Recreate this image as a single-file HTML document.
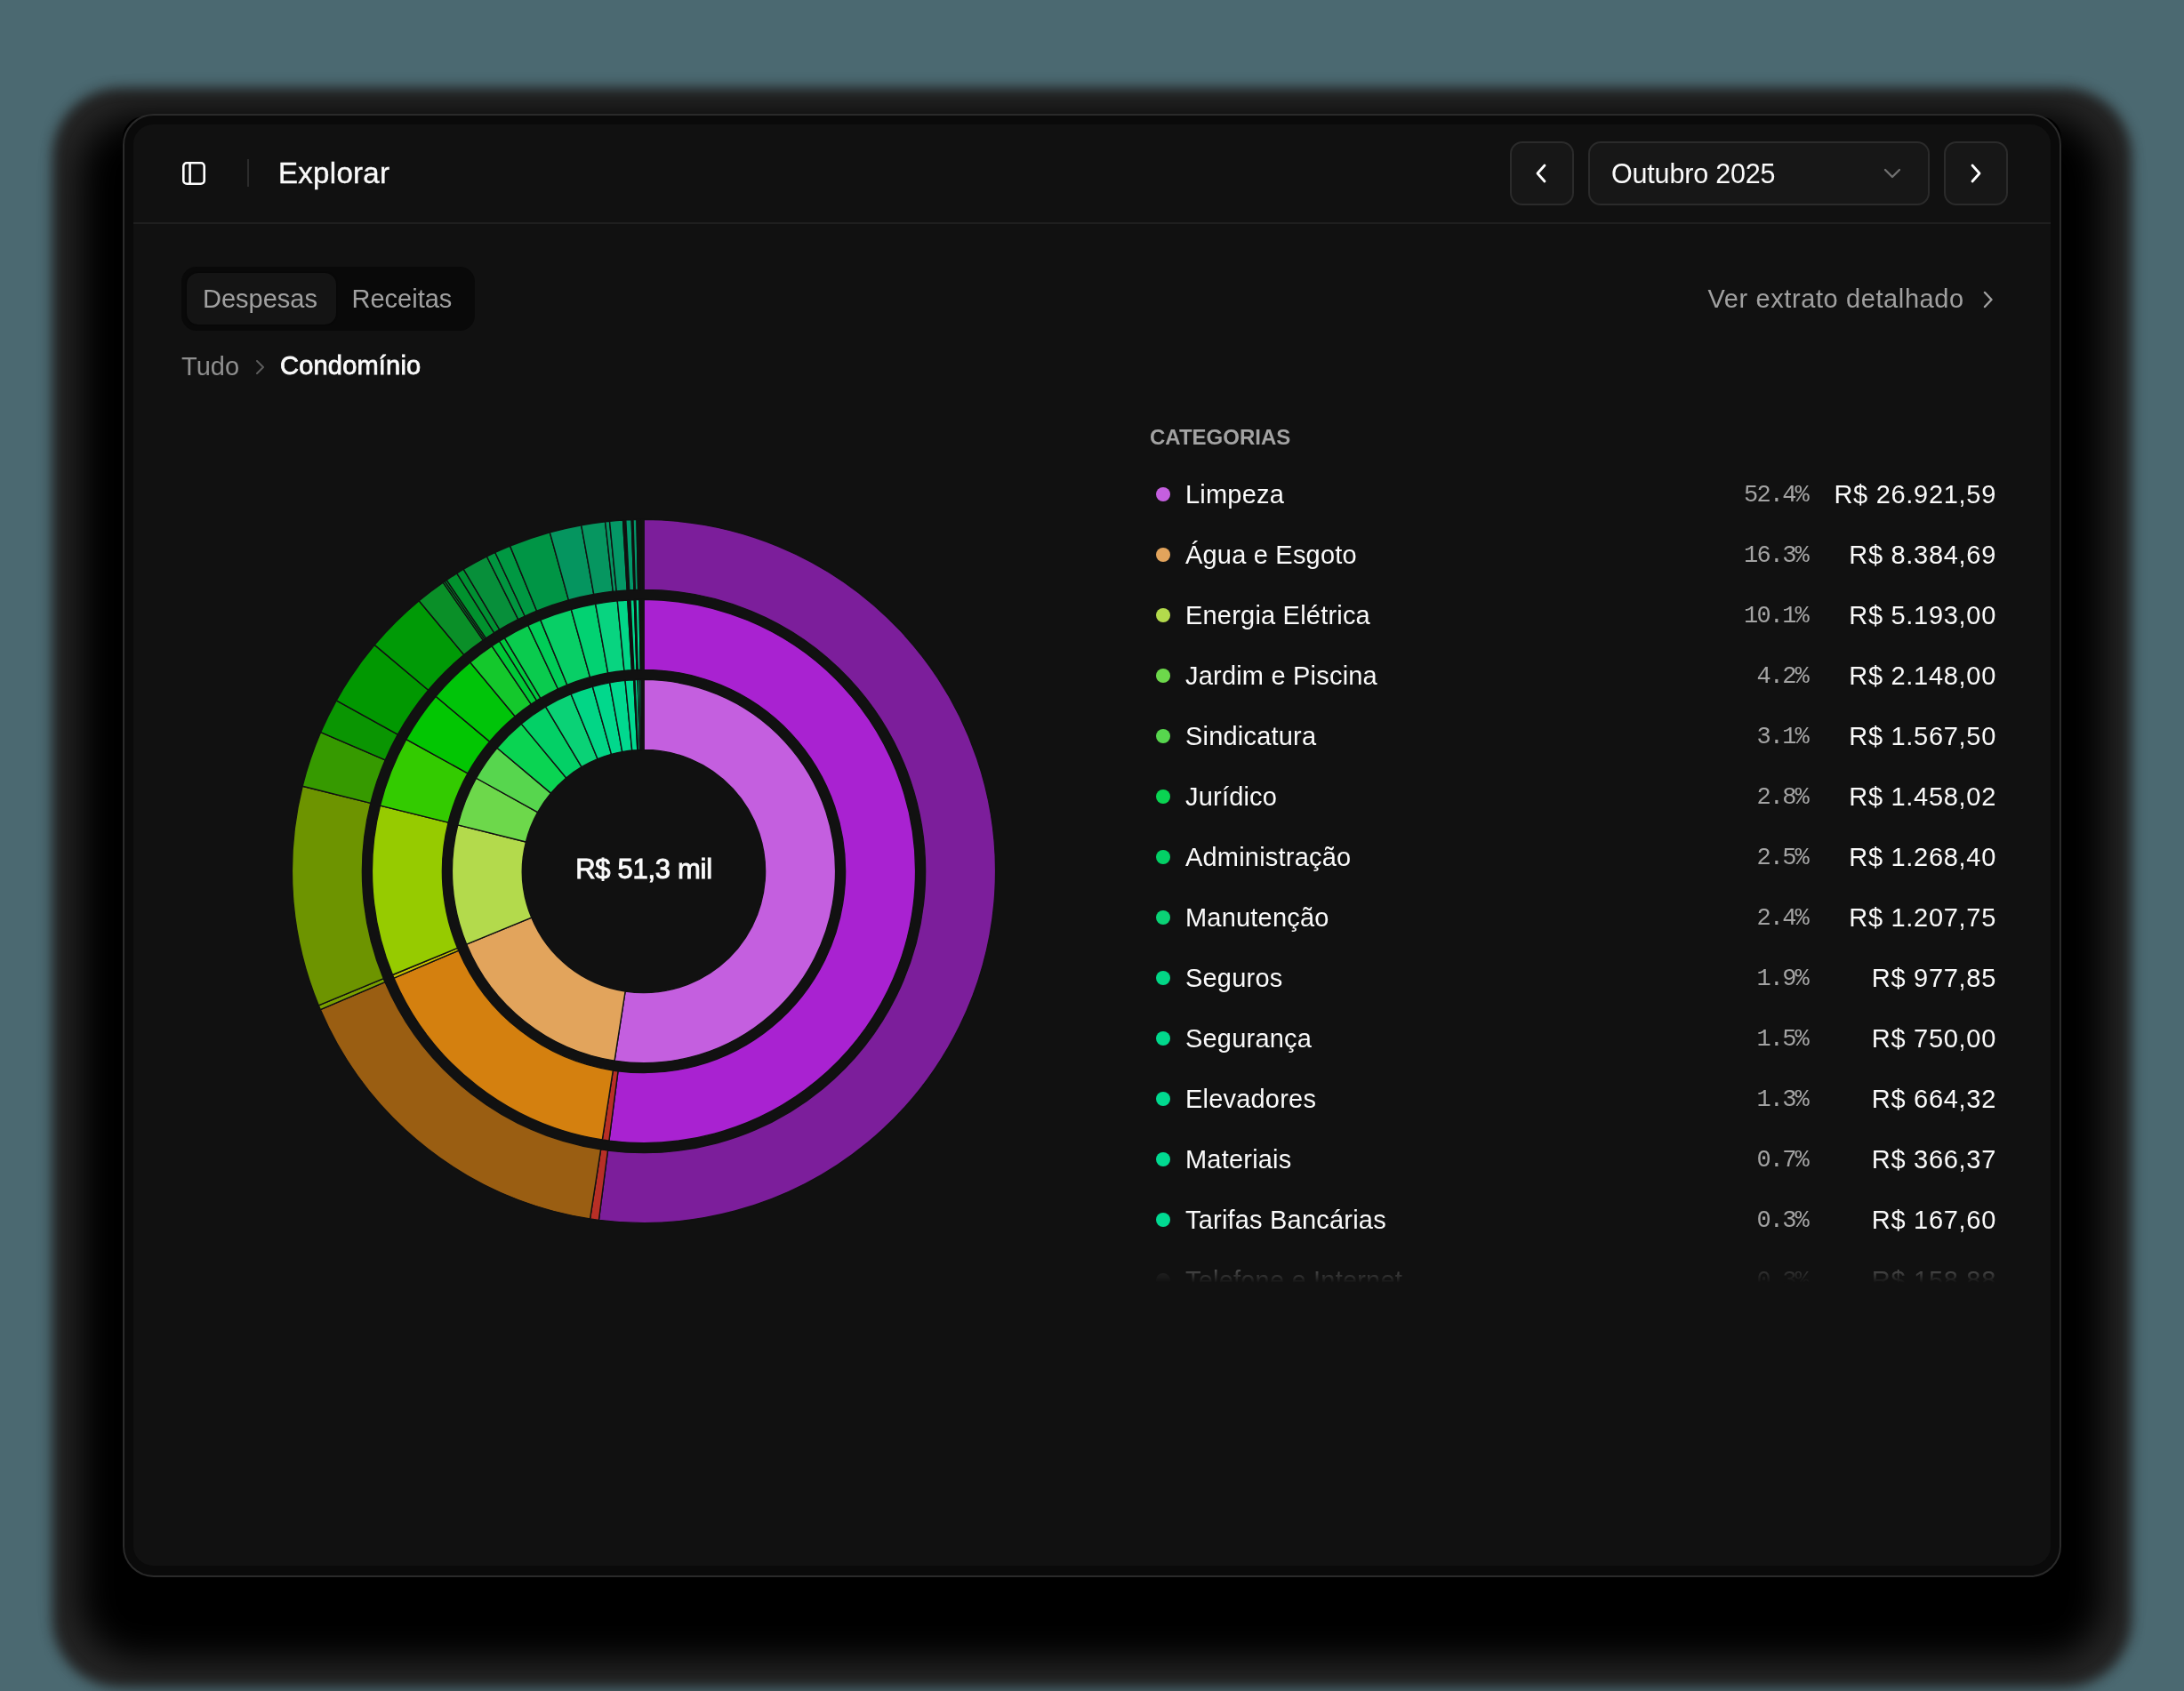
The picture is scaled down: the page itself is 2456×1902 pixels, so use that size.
<!DOCTYPE html>
<html><head><meta charset="utf-8"><style>
*{box-sizing:border-box;margin:0;padding:0}
html,body{width:2456px;height:1902px;overflow:hidden;background:#4b6971;font-family:"Liberation Sans",sans-serif}
.a{position:absolute;white-space:nowrap;line-height:1;opacity:.999}
.shadow{position:absolute;left:138px;top:131px;width:2180px;height:1641px;border-radius:24px;background:#000;box-shadow:0 47px 40px 48px #000,0 47px 14px 79px #262626}
.win{position:absolute;left:138px;top:128px;width:2180px;height:1646px;border-radius:35px;border:2px solid #2a2a2a;background:#0a0a0a}
.panel{position:absolute;left:150px;top:140px;width:2156px;height:1621px;border-radius:22px;background:#111111}
.btn{position:absolute;top:159px;height:72px;border:2px solid #2b2b2b;border-radius:14px;background:#171717}
.dot{position:absolute;left:1300px;width:16px;height:16px;border-radius:50%}
.nm{position:absolute;left:1333px;font-size:29px;line-height:1;color:#fafafa;letter-spacing:0.2px;white-space:nowrap}
.pc{position:absolute;right:423px;font-size:27px;line-height:1;color:#a3a3a3;font-family:"Liberation Mono",monospace;letter-spacing:-1.8px;white-space:nowrap}
.vl{position:absolute;right:211px;font-size:29px;line-height:1;color:#fafafa;letter-spacing:0.7px;white-space:nowrap}
.list{position:absolute;left:0;top:0;width:2456px;height:1443px;overflow:hidden;
 -webkit-mask-image:linear-gradient(to bottom,#000 0,#000 1386px,rgba(0,0,0,0) 1443px);mask-image:linear-gradient(to bottom,#000 0,#000 1386px,rgba(0,0,0,0) 1443px)}
</style></head><body>
<div class="shadow"></div>
<div class="win"></div>
<div class="panel"></div>
<!-- header -->
<svg class="a" style="left:205px;top:182px" width="26" height="26" viewBox="0 0 26 26"><rect x="1.3" y="1.3" width="23.4" height="23.4" rx="3.8" fill="none" stroke="#fff" stroke-width="2.6"/><line x1="8.6" y1="1.5" x2="8.6" y2="24.5" stroke="#fff" stroke-width="2.6"/></svg>
<div class="a" style="left:278px;top:179px;width:2px;height:31px;background:#2c2c2c"></div>
<div class="a" style="left:313px;top:178.2px;font-size:33px;color:#fafafa;letter-spacing:0.3px;-webkit-text-stroke:0.4px #fafafa">Explorar</div>
<div class="btn" style="left:1698px;width:72px"><svg class="a" style="left:26px;top:23px" width="16" height="22" viewBox="0 0 16 22"><path d="M11 2 L3 11 L11 20" fill="none" stroke="#fff" stroke-width="2.8" stroke-linecap="round" stroke-linejoin="round"/></svg></div>
<div class="btn" style="left:1786px;width:384px"><svg class="a" style="left:329px;top:26px" width="22" height="16" viewBox="0 0 22 16"><path d="M3 4 L11 12 L19 4" fill="none" stroke="#717171" stroke-width="2.3" stroke-linecap="round" stroke-linejoin="round"/></svg></div>
<div class="a" style="left:1812px;top:179.6px;font-size:30.5px;color:#fafafa;letter-spacing:-0.18px">Outubro 2025</div>
<div class="btn" style="left:2186px;width:72px"><svg class="a" style="left:26px;top:23px" width="16" height="22" viewBox="0 0 16 22"><path d="M4 2 L12 11 L4 20" fill="none" stroke="#fff" stroke-width="2.8" stroke-linecap="round" stroke-linejoin="round"/></svg></div>
<div class="a" style="left:150px;top:250px;width:2156px;height:2px;background:#1f1f1f"></div>
<!-- tabs -->
<div class="a" style="left:204px;top:300px;width:330px;height:72px;border-radius:17px;background:#090909"></div>
<div class="a" style="left:210px;top:307px;width:168px;height:58px;border-radius:13px;background:#141414;box-shadow:0 0 2px rgba(0,0,0,.6)"></div>
<div class="a" style="left:228px;top:322px;font-size:29px;color:#a0a0a0">Despesas</div>
<div class="a" style="left:395.5px;top:322px;font-size:29px;color:#a0a0a0">Receitas</div>
<div class="a" style="left:1920.5px;top:322.3px;font-size:29px;color:#a0a0a0;letter-spacing:0.6px">Ver extrato detalhado</div>
<svg class="a" style="left:2229px;top:327px" width="14" height="20" viewBox="0 0 14 20"><path d="M3 2 L10.5 10 L3 18" fill="none" stroke="#a0a0a0" stroke-width="2.4" stroke-linecap="round" stroke-linejoin="round"/></svg>
<!-- breadcrumb -->
<div class="a" style="left:204px;top:398px;font-size:29px;color:#8f8f8f">Tudo</div>
<svg class="a" style="left:286px;top:404px" width="14" height="18" viewBox="0 0 14 18"><path d="M3 2 L10 9 L3 16" fill="none" stroke="#5c5c5c" stroke-width="2" stroke-linecap="round" stroke-linejoin="round"/></svg>
<div class="a" style="left:315px;top:397.3px;font-size:29px;color:#fafafa;letter-spacing:0.2px;-webkit-text-stroke:0.8px #fafafa">Condomínio</div>
<!-- chart -->
<svg class="a" style="left:0;top:0" width="2456" height="1902" viewBox="0 0 2456 1902">
 <g stroke="#111" stroke-width="1.4" stroke-linejoin="round">
<path d="M724.00,764.40A215.6,215.6 0 1 1 691.05,1193.07L703.13,1115.00A136.6,136.6 0 1 0 724.00,843.40Z" fill="#c45fdf"/>
<path d="M691.05,1193.07A215.6,215.6 0 0 1 524.68,1062.19L597.72,1032.08A136.6,136.6 0 0 0 703.13,1115.00Z" fill="#e2a45c"/>
<path d="M524.68,1062.19A215.6,215.6 0 0 1 514.80,927.84L591.46,946.95A136.6,136.6 0 0 0 597.72,1032.08Z" fill="#b3da4c"/>
<path d="M514.80,927.84A215.6,215.6 0 0 1 535.56,875.24L604.61,913.63A136.6,136.6 0 0 0 591.46,946.95Z" fill="#6dd84b"/>
<path d="M535.56,875.24A215.6,215.6 0 0 1 558.99,841.24L619.45,892.09A136.6,136.6 0 0 0 604.61,913.63Z" fill="#57d64e"/>
<path d="M558.99,841.24A215.6,215.6 0 0 1 586.22,814.17L636.71,874.93A136.6,136.6 0 0 0 619.45,892.09Z" fill="#0ad452"/>
<path d="M586.22,814.17A215.6,215.6 0 0 1 613.54,794.85L654.01,862.69A136.6,136.6 0 0 0 636.71,874.93Z" fill="#03d066"/>
<path d="M613.54,794.85A215.6,215.6 0 0 1 642.02,780.60L672.06,853.66A136.6,136.6 0 0 0 654.01,862.69Z" fill="#0ad276"/>
<path d="M642.02,780.60A215.6,215.6 0 0 1 666.38,772.24L687.50,848.37A136.6,136.6 0 0 0 672.06,853.66Z" fill="#02d686"/>
<path d="M666.38,772.24A215.6,215.6 0 0 1 685.67,767.83L699.72,845.58A136.6,136.6 0 0 0 687.50,848.37Z" fill="#01d88c"/>
<path d="M685.67,767.83A215.6,215.6 0 0 1 703.04,765.42L710.72,844.05A136.6,136.6 0 0 0 699.72,845.58Z" fill="#01d98f"/>
<path d="M703.04,765.42A215.6,215.6 0 0 1 712.68,764.70L716.83,843.59A136.6,136.6 0 0 0 710.72,844.05Z" fill="#01da91"/>
<path d="M712.68,764.70A215.6,215.6 0 0 1 713.96,764.63L717.64,843.55A136.6,136.6 0 0 0 716.83,843.59Z" fill="#01da92"/>
<path d="M713.96,764.63A215.6,215.6 0 0 1 717.12,764.51L719.64,843.47A136.6,136.6 0 0 0 717.64,843.55Z" fill="#01da92"/>
<path d="M717.12,764.51A215.6,215.6 0 0 1 719.37,764.45L721.07,843.43A136.6,136.6 0 0 0 719.64,843.47Z" fill="#01da92"/>
<path d="M719.37,764.45A215.6,215.6 0 0 1 721.18,764.42L722.21,843.41A136.6,136.6 0 0 0 721.07,843.43Z" fill="#01da92"/>
<path d="M721.18,764.42A215.6,215.6 0 0 1 724.00,764.40L724.00,843.40A136.6,136.6 0 0 0 722.21,843.41Z" fill="#111111"/>
<path d="M724.00,674.40A305.6,305.6 0 1 1 684.90,1283.09L695.01,1204.74A226.6,226.6 0 1 0 724.00,753.40Z" fill="#a922d1"/>
<path d="M684.90,1283.09A305.6,305.6 0 0 1 677.30,1282.01L689.37,1203.94A226.6,226.6 0 0 0 695.01,1204.74Z" fill="#b82f26"/>
<path d="M677.30,1282.01A305.6,305.6 0 0 1 443.03,1100.19L515.66,1069.12A226.6,226.6 0 0 0 689.37,1203.94Z" fill="#d4800f"/>
<path d="M443.03,1100.19A305.6,305.6 0 0 1 441.48,1096.50L514.51,1066.39A226.6,226.6 0 0 0 515.66,1069.12Z" fill="#c8c400"/>
<path d="M441.48,1096.50A305.6,305.6 0 0 1 427.48,906.07L504.13,925.18A226.6,226.6 0 0 0 514.51,1066.39Z" fill="#96cb00"/>
<path d="M427.48,906.07A305.6,305.6 0 0 1 456.90,831.52L525.95,869.90A226.6,226.6 0 0 0 504.13,925.18Z" fill="#33cb00"/>
<path d="M456.90,831.52A305.6,305.6 0 0 1 490.10,783.32L550.57,834.16A226.6,226.6 0 0 0 525.95,869.90Z" fill="#02c602"/>
<path d="M490.10,783.32A305.6,305.6 0 0 1 528.71,744.94L579.19,805.70A226.6,226.6 0 0 0 550.57,834.16Z" fill="#00c409"/>
<path d="M528.71,744.94A305.6,305.6 0 0 1 553.11,726.65L597.29,792.14A226.6,226.6 0 0 0 579.19,805.70Z" fill="#14c82c"/>
<path d="M553.11,726.65A305.6,305.6 0 0 1 561.60,721.12L603.59,788.04A226.6,226.6 0 0 0 597.29,792.14Z" fill="#00c836"/>
<path d="M561.60,721.12A305.6,305.6 0 0 1 567.43,717.56L607.90,785.40A226.6,226.6 0 0 0 603.59,788.04Z" fill="#00ca3e"/>
<path d="M567.43,717.56A305.6,305.6 0 0 1 593.88,703.48L627.52,774.97A226.6,226.6 0 0 0 607.90,785.40Z" fill="#0acb4e"/>
<path d="M593.88,703.48A305.6,305.6 0 0 1 607.79,697.36L637.83,770.42A226.6,226.6 0 0 0 627.52,774.97Z" fill="#00cd57"/>
<path d="M607.79,697.36A305.6,305.6 0 0 1 642.33,685.51L663.44,761.64A226.6,226.6 0 0 0 637.83,770.42Z" fill="#08cf66"/>
<path d="M642.33,685.51A305.6,305.6 0 0 1 669.67,679.27L683.72,757.01A226.6,226.6 0 0 0 663.44,761.64Z" fill="#02d272"/>
<path d="M669.67,679.27A305.6,305.6 0 0 1 694.28,675.85L701.97,754.47A226.6,226.6 0 0 0 683.72,757.01Z" fill="#08d480"/>
<path d="M694.28,675.85A305.6,305.6 0 0 1 705.77,674.94L710.48,753.80A226.6,226.6 0 0 0 701.97,754.47Z" fill="#02d788"/>
<path d="M705.77,674.94A305.6,305.6 0 0 1 708.96,674.77L712.85,753.67A226.6,226.6 0 0 0 710.48,753.80Z" fill="#111111"/>
<path d="M708.96,674.77A305.6,305.6 0 0 1 713.28,674.59L716.05,753.54A226.6,226.6 0 0 0 712.85,753.67Z" fill="#01d88c"/>
<path d="M713.28,674.59A305.6,305.6 0 0 1 714.93,674.53L717.28,753.50A226.6,226.6 0 0 0 716.05,753.54Z" fill="#111111"/>
<path d="M714.93,674.53A305.6,305.6 0 0 1 718.99,674.44L720.28,753.43A226.6,226.6 0 0 0 717.28,753.50Z" fill="#01da90"/>
<path d="M718.99,674.44A305.6,305.6 0 0 1 721.01,674.41L721.79,753.41A226.6,226.6 0 0 0 720.28,753.43Z" fill="#111111"/>
<path d="M721.01,674.41A305.6,305.6 0 0 1 721.97,674.41L722.50,753.40A226.6,226.6 0 0 0 721.79,753.41Z" fill="#01da92"/>
<path d="M721.97,674.41A305.6,305.6 0 0 1 724.00,674.40L724.00,753.40A226.6,226.6 0 0 0 722.50,753.40Z" fill="#111111"/>
<path d="M724.00,584.40A395.6,395.6 0 1 1 673.39,1372.35L683.50,1294.00A316.6,316.6 0 1 0 724.00,663.40Z" fill="#7c1e9b"/>
<path d="M673.39,1372.35A395.6,395.6 0 0 1 663.55,1370.95L675.62,1292.88A316.6,316.6 0 0 0 683.50,1294.00Z" fill="#b82f26"/>
<path d="M663.55,1370.95A395.6,395.6 0 0 1 360.28,1135.59L432.91,1104.52A316.6,316.6 0 0 0 675.62,1292.88Z" fill="#9a5e12"/>
<path d="M360.28,1135.59A395.6,395.6 0 0 1 358.28,1130.82L431.31,1100.70A316.6,316.6 0 0 0 432.91,1104.52Z" fill="#7aa000"/>
<path d="M358.28,1130.82A395.6,395.6 0 0 1 340.15,884.30L416.80,903.41A316.6,316.6 0 0 0 431.31,1100.70Z" fill="#6d9400"/>
<path d="M340.15,884.30A395.6,395.6 0 0 1 360.66,823.52L433.22,854.77A316.6,316.6 0 0 0 416.80,903.41Z" fill="#369a00"/>
<path d="M360.66,823.52A395.6,395.6 0 0 1 378.24,787.79L447.28,826.17A316.6,316.6 0 0 0 433.22,854.77Z" fill="#0a9502"/>
<path d="M378.24,787.79A395.6,395.6 0 0 1 421.22,725.40L481.68,776.24A316.6,316.6 0 0 0 447.28,826.17Z" fill="#019801"/>
<path d="M421.22,725.40A395.6,395.6 0 0 1 471.20,675.71L521.68,736.48A316.6,316.6 0 0 0 481.68,776.24Z" fill="#009a06"/>
<path d="M471.20,675.71A395.6,395.6 0 0 1 498.23,655.15L543.31,720.02A316.6,316.6 0 0 0 521.68,736.48Z" fill="#0a8f28"/>
<path d="M498.23,655.15A395.6,395.6 0 0 1 500.21,653.78L544.90,718.93A316.6,316.6 0 0 0 543.31,720.02Z" fill="#008f2a"/>
<path d="M500.21,653.78A395.6,395.6 0 0 1 502.21,652.42L546.50,717.84A316.6,316.6 0 0 0 544.90,718.93Z" fill="#008f2a"/>
<path d="M502.21,652.42A395.6,395.6 0 0 1 513.78,644.88L555.76,711.80A316.6,316.6 0 0 0 546.50,717.84Z" fill="#01922e"/>
<path d="M513.78,644.88A395.6,395.6 0 0 1 521.32,640.27L561.79,708.11A316.6,316.6 0 0 0 555.76,711.80Z" fill="#009032"/>
<path d="M521.32,640.27A395.6,395.6 0 0 1 547.48,625.96L582.73,696.66A316.6,316.6 0 0 0 561.79,708.11Z" fill="#078f3a"/>
<path d="M547.48,625.96A395.6,395.6 0 0 1 556.81,621.46L590.20,693.06A316.6,316.6 0 0 0 582.73,696.66Z" fill="#01953f"/>
<path d="M556.81,621.46A395.6,395.6 0 0 1 573.57,614.12L603.61,687.18A316.6,316.6 0 0 0 590.20,693.06Z" fill="#009842"/>
<path d="M573.57,614.12A395.6,395.6 0 0 1 618.28,598.79L639.39,674.91A316.6,316.6 0 0 0 603.61,687.18Z" fill="#009545"/>
<path d="M618.28,598.79A395.6,395.6 0 0 1 653.67,590.70L667.72,668.44A316.6,316.6 0 0 0 639.39,674.91Z" fill="#05955f"/>
<path d="M653.67,590.70A395.6,395.6 0 0 1 680.59,586.79L689.26,665.31A316.6,316.6 0 0 0 667.72,668.44Z" fill="#069660"/>
<path d="M680.59,586.79A395.6,395.6 0 0 1 685.53,586.27L693.22,664.90A316.6,316.6 0 0 0 689.26,665.31Z" fill="#069662"/>
<path d="M685.53,586.27A395.6,395.6 0 0 1 700.54,585.10L705.22,663.96A316.6,316.6 0 0 0 693.22,664.90Z" fill="#049866"/>
<path d="M700.54,585.10A395.6,395.6 0 0 1 703.78,584.92L707.82,663.81A316.6,316.6 0 0 0 705.22,663.96Z" fill="#111111"/>
<path d="M703.78,584.92A395.6,395.6 0 0 1 710.19,584.64L712.95,663.59A316.6,316.6 0 0 0 707.82,663.81Z" fill="#02986a"/>
<path d="M710.19,584.64A395.6,395.6 0 0 1 711.99,584.58L714.39,663.55A316.6,316.6 0 0 0 712.95,663.59Z" fill="#111111"/>
<path d="M711.99,584.58A395.6,395.6 0 0 1 715.99,584.48L717.59,663.46A316.6,316.6 0 0 0 714.39,663.55Z" fill="#03986a"/>
<path d="M715.99,584.48A395.6,395.6 0 0 1 719.72,584.42L720.57,663.42A316.6,316.6 0 0 0 717.59,663.46Z" fill="#111111"/>
<path d="M719.72,584.42A395.6,395.6 0 0 1 720.96,584.41L721.57,663.41A316.6,316.6 0 0 0 720.57,663.42Z" fill="#0a8a40"/>
<path d="M720.96,584.41A395.6,395.6 0 0 1 724.00,584.40L724.00,663.40A316.6,316.6 0 0 0 721.57,663.41Z" fill="#111111"/>
 </g>
</svg>
<div class="a" style="left:574px;top:961.8px;width:300px;text-align:center;font-size:31px;color:#fafafa;letter-spacing:-0.3px;-webkit-text-stroke:0.9px #fafafa">R$ 51,3 mil</div>
<!-- categories -->
<div class="a" style="left:1293px;top:479.6px;font-size:24px;color:#a3a3a3;font-weight:700">CATEGORIAS</div>
<div class="list">
<span class="dot" style="top:548px;background:#c45fdf"></span><span class="nm" style="top:542.4px">Limpeza</span><span class="pc" style="top:543.5px">52.4%</span><span class="vl" style="top:542.4px">R$ 26.921,59</span>
<span class="dot" style="top:616px;background:#e2a45c"></span><span class="nm" style="top:610.4px">Água e Esgoto</span><span class="pc" style="top:611.5px">16.3%</span><span class="vl" style="top:610.4px">R$ 8.384,69</span>
<span class="dot" style="top:684px;background:#b3da4c"></span><span class="nm" style="top:678.4px">Energia Elétrica</span><span class="pc" style="top:679.5px">10.1%</span><span class="vl" style="top:678.4px">R$ 5.193,00</span>
<span class="dot" style="top:752px;background:#6dd84b"></span><span class="nm" style="top:746.4px">Jardim e Piscina</span><span class="pc" style="top:747.5px">4.2%</span><span class="vl" style="top:746.4px">R$ 2.148,00</span>
<span class="dot" style="top:820px;background:#57d64e"></span><span class="nm" style="top:814.4px">Sindicatura</span><span class="pc" style="top:815.5px">3.1%</span><span class="vl" style="top:814.4px">R$ 1.567,50</span>
<span class="dot" style="top:888px;background:#0ad452"></span><span class="nm" style="top:882.4px">Jurídico</span><span class="pc" style="top:883.5px">2.8%</span><span class="vl" style="top:882.4px">R$ 1.458,02</span>
<span class="dot" style="top:956px;background:#03d066"></span><span class="nm" style="top:950.4px">Administração</span><span class="pc" style="top:951.5px">2.5%</span><span class="vl" style="top:950.4px">R$ 1.268,40</span>
<span class="dot" style="top:1024px;background:#0ad276"></span><span class="nm" style="top:1018.4px">Manutenção</span><span class="pc" style="top:1019.5px">2.4%</span><span class="vl" style="top:1018.4px">R$ 1.207,75</span>
<span class="dot" style="top:1092px;background:#02d686"></span><span class="nm" style="top:1086.3px">Seguros</span><span class="pc" style="top:1087.5px">1.9%</span><span class="vl" style="top:1086.3px">R$ 977,85</span>
<span class="dot" style="top:1160px;background:#01d88c"></span><span class="nm" style="top:1154.3px">Segurança</span><span class="pc" style="top:1155.5px">1.5%</span><span class="vl" style="top:1154.3px">R$ 750,00</span>
<span class="dot" style="top:1228px;background:#01d98f"></span><span class="nm" style="top:1222.3px">Elevadores</span><span class="pc" style="top:1223.5px">1.3%</span><span class="vl" style="top:1222.3px">R$ 664,32</span>
<span class="dot" style="top:1296px;background:#01da91"></span><span class="nm" style="top:1290.3px">Materiais</span><span class="pc" style="top:1291.5px">0.7%</span><span class="vl" style="top:1290.3px">R$ 366,37</span>
<span class="dot" style="top:1364px;background:#01da92"></span><span class="nm" style="top:1358.3px">Tarifas Bancárias</span><span class="pc" style="top:1359.5px">0.3%</span><span class="vl" style="top:1358.3px">R$ 167,60</span>
<span class="dot" style="top:1432px;background:#5a5a5a"></span><span class="nm" style="top:1426.3px">Telefone e Internet</span><span class="pc" style="top:1427.5px">0.3%</span><span class="vl" style="top:1426.3px">R$ 158,88</span>
</div>
</body></html>
